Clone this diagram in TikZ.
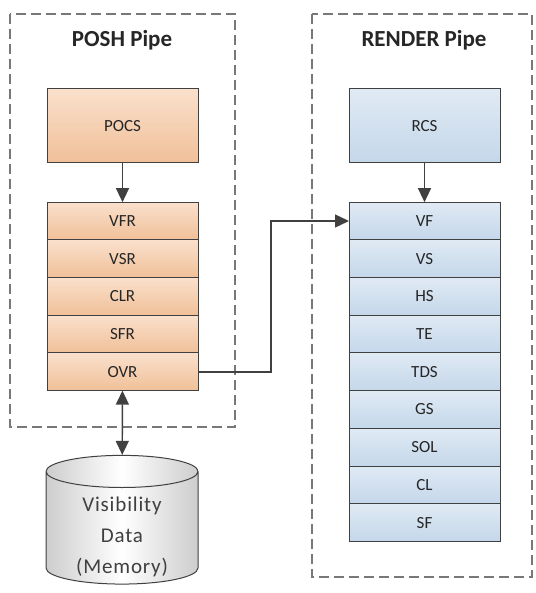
\documentclass[tikz,border=0pt]{standalone}
\usepackage{fontspec}
\setmainfont{Carlito}
\usetikzlibrary{arrows.meta,positioning,shapes.geometric}

\definecolor{poshtop}{RGB}{250,224,204}
\definecolor{poshbot}{RGB}{240,192,152}
\definecolor{rendtop}{RGB}{224,234,244}
\definecolor{rendbot}{RGB}{196,215,234}
\definecolor{edge}{RGB}{64,64,64}
\definecolor{pipegray}{RGB}{120,120,120}
\definecolor{storeside}{RGB}{205,205,205}

\newcommand{\storelines}[1]{\raisebox{-13pt}[40pt][40pt]{\begin{tabular}{@{}c@{}}#1\end{tabular}}}

\begin{document}
\begin{tikzpicture}[
    x=1pt, y=-1pt,
    every node/.style={
        inner sep=0pt,
        text=black!85,
        font=\fontsize{17}{19}\selectfont
    },
    pipe/.style={draw=pipegray, dash pattern=on 10pt off 5pt, line width=1.1pt},
    title/.style={font=\fontsize{23}{25}\selectfont\bfseries},
    stage/.style={draw=edge, line width=1pt, outer sep=0pt,
        minimum width=151pt, minimum height=37.7pt},
    head/.style={stage, minimum height=74pt},
    posh/.style={top color=poshtop, bottom color=poshbot},
    render/.style={top color=rendtop, bottom color=rendbot},
    store/.style={cylinder, shape border rotate=90, draw=edge, line width=1pt,
        left color=storeside, right color=storeside, middle color=white,
        aspect=0.35, minimum width=152pt, minimum height=127pt,
        text=black!75,
        font=\fontsize{21}{31}\selectfont\addfontfeatures{LetterSpace=4}},
    link/.style={draw=edge, line width=1.4pt, -{Triangle[width=13pt,length=14pt]}},
    both/.style={link, {Triangle[width=13pt,length=14pt]}-{Triangle[width=13pt,length=14pt]}}
]
\useasboundingbox (0,0) rectangle (535,593);

% pipes
\draw[pipe] (10,14) rectangle (235,427);
\draw[pipe] (312,14) rectangle (532,577);
\node[title] (poshtitle) at (122,40) {POSH Pipe};
\node[title] (rendtitle) at (424,40) {RENDER Pipe};

% POSH stages
\node[head, posh] (pocs) at (122.5,126) {POCS};
\node[stage, posh] (VFR) at (122.5,221) {VFR};
\foreach \lbl [remember=\lbl as \prev (initially VFR)] in {VSR,CLR,SFR,OVR}
    \node[stage, posh, below=0pt of \prev] (\lbl) {\lbl};

% RENDER stages
\node[head, render] (rcs) at (424.5,126) {RCS};
\node[stage, render] (VF) at (424.5,221) {VF};
\foreach \lbl [remember=\lbl as \prev (initially VF)] in {VS,HS,TE,TDS,GS,SOL,CL,SF}
    \node[stage, render, below=0pt of \prev] (\lbl) {\lbl};

% memory
\node[store] (vis) at (122,528) {\storelines{Visibility\\Data\\(Memory)}};

% links
\draw[link] (pocs) -- (VFR);
\draw[link] (rcs) -- (VF);
\draw[link] (OVR.east) -- ++(73,0) |- (VF.west);
\draw[both] (OVR) -- (vis);
\end{tikzpicture}
\end{document}
